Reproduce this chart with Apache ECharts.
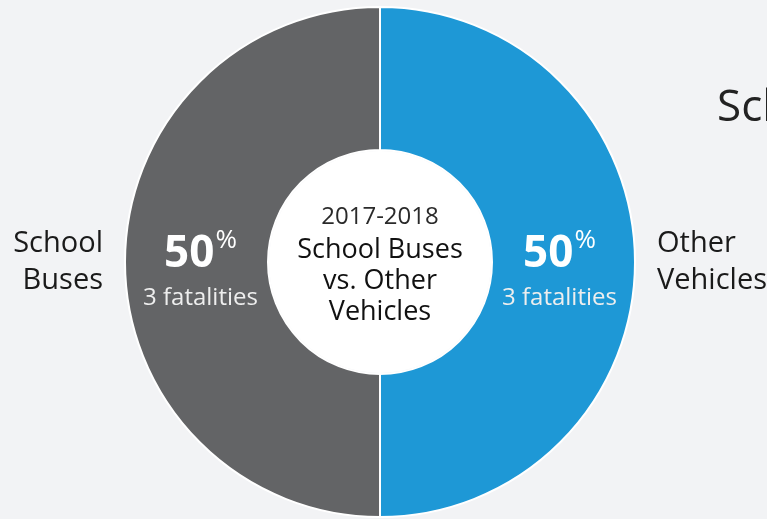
<!DOCTYPE html>
<html>
<head>
<meta charset="utf-8">
<script src="https://cdn.jsdelivr.net/npm/echarts@6/dist/echarts.min.js"></script>
<style>
    html, body { margin: 0; padding: 0; background: #f2f3f5; }
    #main { width: 767px; height: 519px; }
</style>
</head>
<body>
<div id="main"></div>
<script>
// 分类
let categories = ['Other Vehicles', 'School Buses'];
// 外部标签（换行）
let outerLabels = ['Other\nVehicles', 'School\nBuses'];
// 死亡人数
let fatalities = [3, 3];
// 颜色
let colors = ['#1e98d6', '#636466'];
// 中心文字
let centerLines = ['2017-2018', 'School Buses', 'vs. Other', 'Vehicles'];
let titleText = 'School Bus Fatalities';

let font = '"Open Sans", "Noto Sans", sans-serif';

// 内部标签稍向圆心偏移
let insidePadding = [[16, 14, 0, 0], [16, 0, 0, 14]];

let ringData = [];
let outerData = [];
for (let i = 0; i < categories.length; i++) {
    ringData.push({
        name: categories[i],
        value: fatalities[i],
        itemStyle: { color: colors[i] },
        label: { padding: insidePadding[i] }
    });
    outerData.push({
        name: outerLabels[i],
        value: fatalities[i]
    });
}

let chart = echarts.init(document.getElementById('main'));
let option = {
    backgroundColor: '#f2f3f5',
    animation: false,
    title: {
        text: titleText,
        left: 712,
        top: 81,
        textStyle: {
            fontFamily: font,
            fontSize: 44,
            fontWeight: 'normal',
            color: '#222222'
        }
    },
    series: [
        {
            // 环形
            type: 'pie',
            center: [380, 262],
            radius: [112, 255],
            startAngle: 90,
            avoidLabelOverlap: false,
            silent: true,
            itemStyle: {
                borderColor: '#ffffff',
                borderWidth: 2
            },
            label: {
                show: true,
                position: 'inside',
                fontFamily: font,
                formatter: function (p) {
                    return '{big|' + Math.round(p.percent) + '}{pct|%}\n{small|' + p.value + ' fatalities}';
                },
                rich: {
                    big: {
                        fontFamily: font,
                        fontSize: 44,
                        fontWeight: 'bold',
                        color: '#ffffff',
                        lineHeight: 56
                    },
                    pct: {
                        fontFamily: font,
                        fontSize: 26,
                        color: '#ffffff',
                        lineHeight: 56,
                        verticalAlign: 'top',
                        padding: [2, 0, 0, 1]
                    },
                    small: {
                        fontFamily: font,
                        fontSize: 24,
                        color: '#eeeeee',
                        lineHeight: 32
                    }
                }
            },
            labelLine: { show: false },
            data: ringData
        },
        {
            // 外部标签
            type: 'pie',
            center: [380, 262],
            radius: [112, 255],
            startAngle: 90,
            avoidLabelOverlap: false,
            silent: true,
            itemStyle: { color: 'transparent', borderWidth: 0 },
            label: {
                show: true,
                position: 'outside',
                fontFamily: font,
                fontSize: 29,
                lineHeight: 37,
                color: '#1a1a1a',
                formatter: '{b}'
            },
            labelLine: { show: false, length: 8, length2: 9 },
            data: outerData
        },
        {
            // 中心白圆
            type: 'pie',
            center: [380, 262],
            radius: [0, 111],
            silent: true,
            itemStyle: { color: '#ffffff' },
            label: {
                show: true,
                position: 'center',
                padding: [4, 0, 0, 0],
                formatter: function () {
                    return '{yr|' + centerLines[0] + '}\n{b|' + centerLines.slice(1).join('}\n{b|') + '}';
                },
                rich: {
                    yr: {
                        fontFamily: font,
                        fontSize: 24,
                        color: '#2a2a2a',
                        lineHeight: 34
                    },
                    b: {
                        fontFamily: font,
                        fontSize: 27,
                        color: '#111111',
                        lineHeight: 31
                    }
                }
            },
            labelLine: { show: false },
            data: [{ name: 'center', value: 1 }]
        }
    ]
};
chart.setOption(option);
</script>
</body>
</html>
